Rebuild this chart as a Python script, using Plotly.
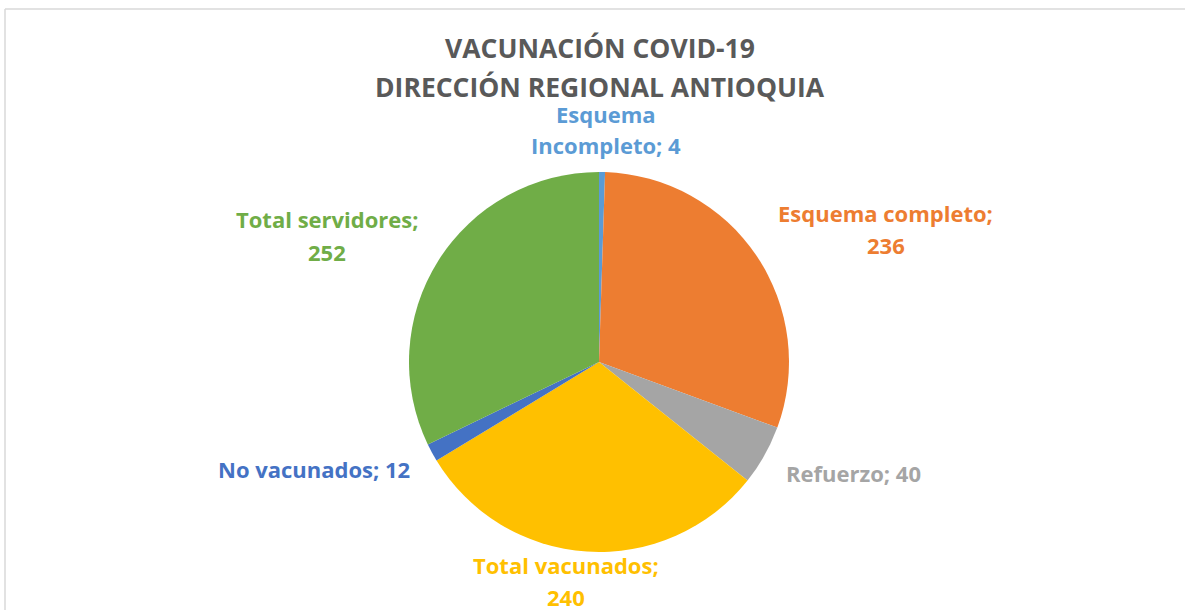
import plotly.graph_objects as go

categories = ["Esquema Incompleto", "Esquema completo", "Refuerzo",
              "Total vacunados", "No vacunados", "Total servidores"]
values = [4, 236, 40, 240, 12, 252]
title_lines = ["VACUNACIÓN COVID-19", "DIRECCIÓN REGIONAL ANTIOQUIA"]

colors = ["#5B9BD5", "#ED7D31", "#A5A5A5", "#FFC000", "#4472C4", "#70AD47"]

W, H = 1185, 610
FONT = "Open Sans"


def px(x, y):
    # pixel position -> paper coords
    return x / W, 1 - y / H


# data labels are wrapped like in the Excel original: (line text, centre x, centre y)
label_layout = {
    "Esquema Incompleto": [("Esquema", 606, 114), ("Incompleto; {v}", 606, 145)],
    "Esquema completo": [("Esquema completo;", 886, 213), ("{v}", 886, 245)],
    "Refuerzo": [("Refuerzo; {v}", 853, 473)],
    "Total vacunados": [("Total vacunados;", 566, 565), ("{v}", 566, 597)],
    "No vacunados": [("No vacunados; {v}", 314, 469)],
    "Total servidores": [("Total servidores;", 327, 219), ("{v}", 327, 252)],
}

fig = go.Figure(
    go.Pie(
        labels=categories,
        values=values,
        textinfo="none",
        sort=False,
        direction="clockwise",
        rotation=0,
        marker={"colors": colors, "line": {"width": 0}},
        domain={"x": [409 / W, 789 / W], "y": [1 - 552 / H, 1 - 172 / H]},
        showlegend=False,
        hoverinfo="label+value",
    )
)

annotations = []
for cat, val, col in zip(categories, values, colors):
    for txt, x, y in label_layout[cat]:
        ax, ay = px(x, y)
        annotations.append(dict(
            x=ax, y=ay, xref="paper", yref="paper", showarrow=False,
            xanchor="center", yanchor="middle",
            text="<b>" + txt.format(v=val) + "</b>",
            font={"size": 22, "color": col, "family": FONT},
        ))

for line, y in zip(title_lines, [48, 87]):
    ax, ay = px(600, y)
    annotations.append(dict(
        x=ax, y=ay, xref="paper", yref="paper", showarrow=False,
        xanchor="center", yanchor="middle",
        text="<b>" + line + "</b>",
        font={"size": 26.5, "color": "#595959", "family": FONT},
    ))

fig.update_layout(
    width=W,
    height=H,
    paper_bgcolor="white",
    margin={"l": 0, "r": 0, "t": 0, "b": 0},
    font={"family": FONT},
    annotations=annotations,
    shapes=[
        {"type": "line", "xref": "paper", "yref": "paper", "x0": 5 / W, "x1": 1.0,
         "y0": 1 - 9 / H, "y1": 1 - 9 / H, "line": {"color": "#D9D9D9", "width": 1.5}},
        {"type": "line", "xref": "paper", "yref": "paper", "x0": 5 / W, "x1": 5 / W,
         "y0": 0.0, "y1": 1 - 9 / H, "line": {"color": "#D9D9D9", "width": 1.5}},
    ],
)

fig.write_html("out.html", config={"displayModeBar": False},
               post_script="document.body.style.margin='0';")
